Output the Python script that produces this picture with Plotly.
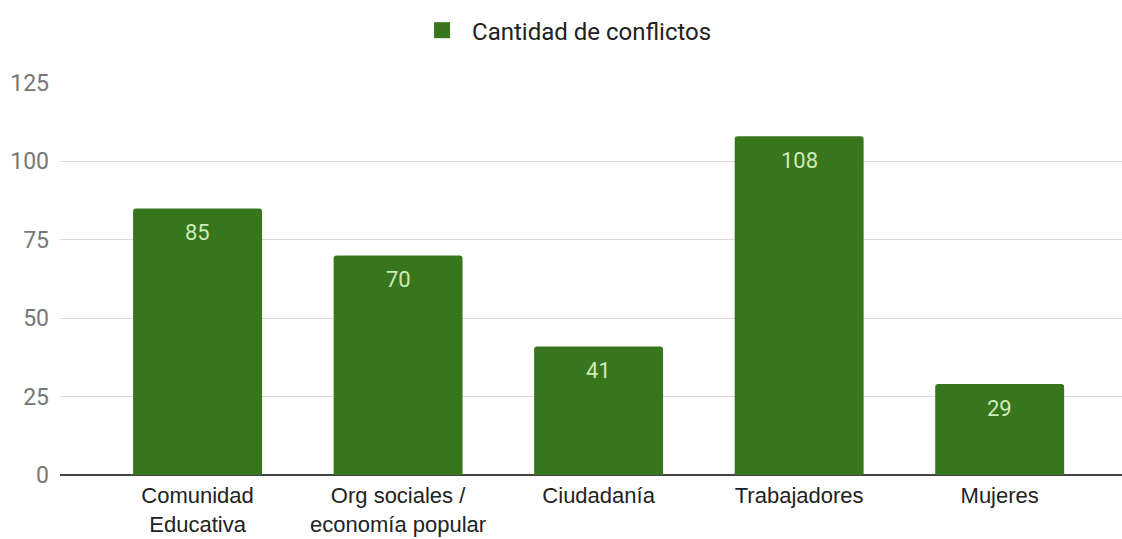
import plotly.graph_objects as go

# Conflict counts by social actor
categories = ["Comunidad<br>Educativa", "Org sociales /<br>economía popular", "Ciudadanía", "Trabajadores", "Mujeres"]
conflictos = [85, 70, 41, 108, 29]
series_name = "Cantidad de conflictos"
y_ticks = [0, 25, 50, 75, 100, 125]

bar_color = "#38761d"
label_color = "#cdeabb"

fig = go.Figure()
fig.add_trace(go.Bar(
    x=categories,
    y=conflictos,
    marker=dict(color=bar_color, cornerradius=3, line=dict(width=0)),
    showlegend=False,
    hoverinfo="x+y",
))
# legend entry with a larger square swatch
fig.add_trace(go.Scatter(
    x=[None], y=[None], mode="markers", name=series_name,
    marker=dict(symbol="square", size=22, color=bar_color),
))

for cat, val in zip(categories, conflictos):
    fig.add_annotation(
        x=cat, y=val, text=str(val), showarrow=False,
        yanchor="top", yshift=-10,
        font=dict(family="Roboto", size=22, color=label_color),
    )

fig.update_layout(
    width=1122, height=539,
    margin=dict(l=60, r=0, t=83, b=64),
    paper_bgcolor="white", plot_bgcolor="white",
    bargap=0.357,
    font=dict(family="Roboto", color="#222222"),
    showlegend=True,
    legend=dict(
        orientation="h", x=0.3315, xanchor="left", y=0.985, yref="container",
        yanchor="top",
        font=dict(family="Roboto", size=24, color="#222222"),
        itemwidth=50,
    ),
    xaxis=dict(
        range=[-0.686, 4.61], automargin=False,
        showgrid=False, showline=False, zeroline=False,
        tickfont=dict(family="Liberation Sans", size=22, color="#222222"),
        ticks="", ticklabelstandoff=5,
    ),
    yaxis=dict(
        range=[0, 125], tickvals=y_ticks, automargin=False,
        showgrid=True, gridcolor="#d9d9d9", gridwidth=1,
        zeroline=True, zerolinecolor="#444444", zerolinewidth=1.5,
        showline=False, ticks="", ticklabelstandoff=10,
        tickfont=dict(family="Roboto", size=23, color="#777777"),
    ),
)

fig.write_html("out.html")
